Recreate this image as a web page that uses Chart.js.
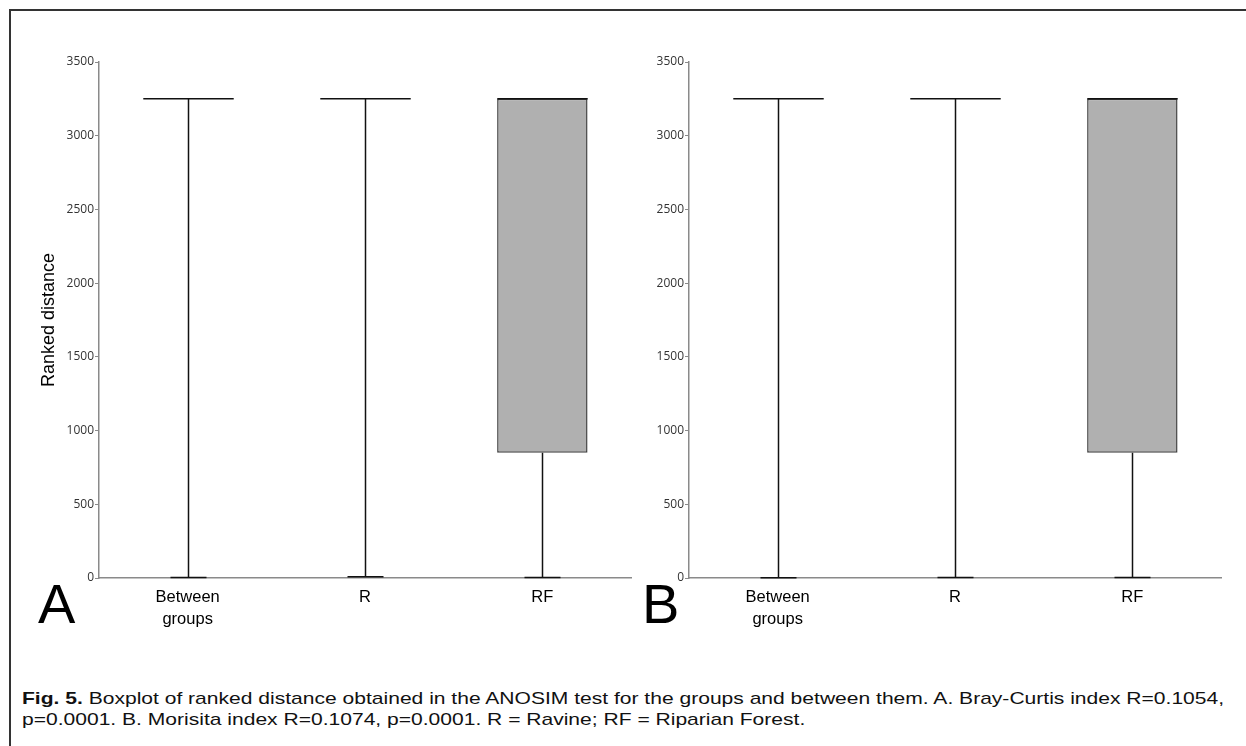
<!DOCTYPE html>
<html>
<head>
<meta charset="utf-8">
<script src="https://cdn.jsdelivr.net/npm/chart.js@4.4.0/dist/chart.umd.min.js"></script>
<style>
  html, body { margin: 0; padding: 0; background: #fff; }
  body { width: 1246px; height: 746px; position: relative; overflow: hidden; font-family: "Liberation Sans", Arial, sans-serif; }
  .frame { position: absolute; left: 9px; top: 9px; right: -10px; bottom: -10px; border-left: 2px solid #333; border-top: 2px solid #333; }
  .panel { position: absolute; }
  .letter { position: absolute; font-size: 56px; line-height: 1; color: #000; }
  .caption { position: absolute; left: 22px; top: 688px; font-size: 17px; line-height: 21px; color: #111; white-space: nowrap; transform: scaleX(1.238); transform-origin: left top; }
</style>
</head>
<body>
<div class="frame"></div>
<div class="panel" style="left:38px; top:46px; width:594px; height:604px;"><canvas id="chartA"></canvas></div>
<div class="panel" style="left:620px; top:46px; width:602px; height:604px;"><canvas id="chartB"></canvas></div>
<div class="letter" style="left:38px; top:576px;">A</div>
<div class="letter" style="left:642px; top:576px;">B</div>
<div class="caption"><b>Fig. 5.</b> Boxplot of ranked distance obtained in the ANOSIM test for the groups and between them. A. Bray-Curtis index R=0.1054,<br>p=0.0001. B. Morisita index R=0.1074, p=0.0001. R = Ravine; RF = Riparian Forest.</div>
<script>
// Groups on the x axis
const categories = [['Between', 'groups'], 'R', 'RF'];
const yTicks = [0, 500, 1000, 1500, 2000, 2500, 3000, 3500];

// Panel A - Bray-Curtis
const minA = [3, 8, 4];
const q1A = [3250, 3250, 850];
const medianA = [3250, 3250, 3250];
const q3A = [3250, 3250, 3250];
const maxA = [3250, 3250, 3250];

// Panel B - Morisita
const minB = [2, 3, 4];
const q1B = [3250, 3250, 850];
const medianB = [3250, 3250, 3250];
const q3B = [3250, 3250, 3250];
const maxB = [3250, 3250, 3250];

// whiskers + median drawn from the arrays through the chart scales
const whiskerPlugin = {
  id: 'whiskers',
  afterDatasetsDraw(chart) {
    const stats = chart.options.plugins.whiskers;
    const { ctx, scales: { x, y } } = chart;
    const bars = chart.getDatasetMeta(0).data;
    ctx.save();
    ctx.strokeStyle = '#111';
    ctx.lineWidth = 1.5;
    stats.min.forEach((mn, i) => {
      const cx = Math.round(x.getPixelForValue(i)) + 0.5;
      const half = bars[i].width / 2;
      const cap = 18;
      const yMin = y.getPixelForValue(mn);
      const yQ1 = y.getPixelForValue(stats.q1[i]);
      const yQ3 = y.getPixelForValue(stats.q3[i]);
      const yMax = y.getPixelForValue(stats.max[i]);
      const yMed = y.getPixelForValue(stats.median[i]);
      ctx.beginPath();
      // lower whisker
      ctx.moveTo(cx, yQ1); ctx.lineTo(cx, yMin);
      ctx.moveTo(cx - cap, yMin); ctx.lineTo(cx + cap, yMin);
      // upper whisker
      if (yMax < yQ3) {
        ctx.moveTo(cx, yQ3); ctx.lineTo(cx, yMax);
        ctx.moveTo(cx - cap, yMax); ctx.lineTo(cx + cap, yMax);
      }
      // median
      ctx.moveTo(cx - half, yMed); ctx.lineTo(cx + half, yMed);
      ctx.stroke();
    });
    ctx.restore();
  }
};

function makeChart(id, stats, showTitle, axisWidth) {
  return new Chart(document.getElementById(id), {
    type: 'bar',
    data: {
      labels: categories,
      datasets: [{
        data: stats.q1.map((v, i) => [v, stats.q3[i]]),
        backgroundColor: '#b0b0b0',
        borderColor: '#444',
        borderWidth: 1.5,
        borderSkipped: false,
        categoryPercentage: 1,
        barPercentage: 0.51
      }]
    },
    options: {
      responsive: true,
      maintainAspectRatio: false,
      animation: false,
      layout: { padding: { top: 16, right: 1, left: 0, bottom: 0 } },
      plugins: {
        legend: { display: false },
        tooltip: { enabled: false },
        whiskers: stats
      },
      scales: {
        x: {
          grid: { display: true, drawOnChartArea: false, drawTicks: false },
          border: { display: true, color: '#8a8a8a', width: 1.5 },
          ticks: {
            color: '#000',
            padding: 8,
            maxRotation: 0,
            font: { family: '"Liberation Sans", Arial, sans-serif', size: 16.5, lineHeight: 1.35 }
          },
          afterFit(scale) { scale.height = 72; }
        },
        y: {
          min: 0,
          max: 3500,
          afterBuildTicks(scale) { scale.ticks = yTicks.map(v => ({ value: v })); },
          grid: { display: true, drawOnChartArea: false, drawTicks: true, tickLength: 4, color: '#8a8a8a' },
          border: { display: true, color: '#8a8a8a', width: 1.5 },
          ticks: {
            color: '#333',
            padding: 1,
            font: { family: '"Open Sans", sans-serif', size: 12 },
            callback: v => String(v)
          },
          title: {
            display: showTitle,
            text: 'Ranked distance',
            color: '#000',
            padding: { top: 0, bottom: 0 },
            font: { family: '"Liberation Sans", Arial, sans-serif', size: 18 }
          },
          afterFit(scale) { scale.width = axisWidth; }
        }
      }
    },
    plugins: [whiskerPlugin]
  });
}

makeChart('chartA', { min: minA, q1: q1A, median: medianA, q3: q3A, max: maxA }, true, 61);
makeChart('chartB', { min: minB, q1: q1B, median: medianB, q3: q3B, max: maxB }, false, 69);
</script>
</body>
</html>
